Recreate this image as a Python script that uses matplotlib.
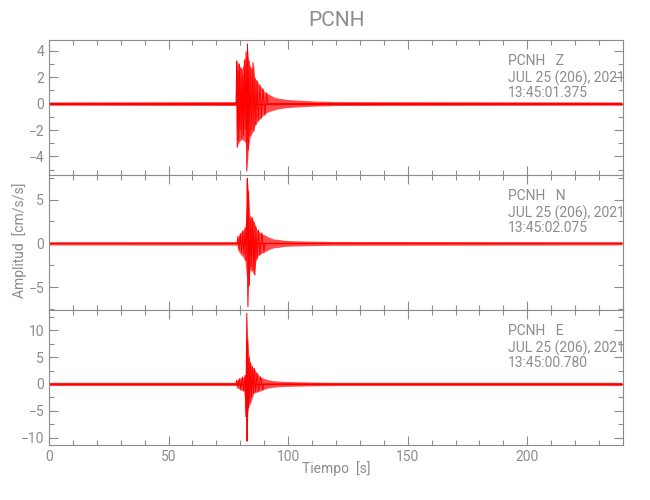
import matplotlib
matplotlib.use('Agg')
import matplotlib.pyplot as plt
from matplotlib.ticker import MultipleLocator

plt.rcParams['font.family'] = ['Roboto', 'DejaVu Sans']

station = 'PCNH'
components = ['Z', 'N', 'E']
dates = ['JUL 25 (206), 2021'] * 3
start_times = ['13:45:01.375', '13:45:02.075', '13:45:00.780']
t_end = 239.5

# envelope of each trace (time [s], upper, lower)
env_t = {
    'Z': [0, 78.2, 78.5, 79.5, 80.5, 81.5, 82.3, 82.8, 83.3, 84, 85, 85.5, 86, 87, 88, 89, 90, 92, 94, 96,
          98, 100, 105, 110, 120, 239.5],
    'N': [0, 78.6, 79.0, 80.0, 81.0, 82.0, 82.6, 82.9, 83.4, 84.0, 85.0, 85.7, 86.5, 87.1, 88.5, 89.9,
          92, 94, 96, 98.3, 102, 110, 120, 239.5],
    'E': [0, 78.2, 78.5, 80.0, 81.5, 82.3, 82.7, 83.1, 83.6, 84.2, 85.0, 85.7, 87.0, 88.5, 90, 91.3, 94,
          97, 100, 110, 120, 239.5],
}
env_up = {
    'Z': [0.12, 0.15, 3.2, 2.9, 2.6, 3.0, 3.7, 4.5, 3.6, 2.9, 2.6, 3.1, 2.0, 1.7, 1.4, 1.2, 0.9, 0.7, 0.5,
          0.4, 0.35, 0.3, 0.25, 0.2, 0.15, 0.12],
    'N': [0.18, 0.2, 0.8, 1.2, 1.5, 1.8, 4.5, 7.4, 5.9, 3.2, 2.9, 2.5, 1.9, 1.5, 1.2, 1.0, 0.7, 0.5, 0.45,
          0.35, 0.3, 0.25, 0.22, 0.18],
    'E': [0.3, 0.3, 0.7, 1.1, 1.4, 2.0, 13.2, 8.2, 5.0, 3.9, 3.2, 2.9, 2.0, 1.3, 1.0, 0.8, 0.6, 0.5, 0.45,
          0.35, 0.3, 0.3],
}
env_lo = {
    'Z': [-0.12, -0.15, -3.3, -2.9, -2.7, -2.8, -3.0, -5.1, -3.5, -2.6, -2.2, -2.0, -1.7, -1.4, -1.2, -1.0,
          -0.8, -0.6, -0.5, -0.4, -0.35, -0.3, -0.25, -0.2, -0.15, -0.12],
    'N': [-0.18, -0.2, -0.8, -1.2, -1.5, -2.0, -4.0, -7.25, -4.8, -3.0, -3.2, -3.6, -2.0, -1.5, -1.2, -1.0,
          -0.7, -0.5, -0.45, -0.35, -0.3, -0.25, -0.22, -0.18],
    'E': [-0.3, -0.3, -0.7, -1.1, -1.4, -6.1, -10.7, -5.5, -4.0, -3.6, -2.5, -1.7, -1.5, -1.3, -1.0, -0.8,
          -0.6, -0.5, -0.45, -0.35, -0.3, -0.3],
}

# main swings (peaks)
peak_t = {
    'Z': [0, 78.2, 78.5, 78.7, 79.0, 79.3, 79.6, 79.9, 80.3, 80.6, 81.0, 81.3, 81.7, 82.0, 82.4, 82.7,
          83.0, 83.3, 83.6, 84.0, 84.4, 84.8, 85.3, 85.7, 86.1, 86.5, 87.0, 87.5, 88.2, 88.8, 89.5, 90.3,
          91.0, 91.4, 239.5],
    'N': [0, 78.6, 79.0, 79.5, 80.0, 80.5, 81.0, 81.5, 82.0, 82.4, 82.8, 82.9, 83.2, 83.4, 83.8, 84.2,
          84.6, 85.0, 85.4, 85.7, 86.1, 86.5, 87.0, 87.6, 88.2, 89.0, 89.9, 90.3, 239.5],
    'E': [0, 78.2, 78.5, 79.0, 79.6, 80.2, 80.8, 81.4, 82.0, 82.3, 82.7, 82.8, 83.1, 83.4, 83.7, 84.0,
          84.3, 84.7, 85.1, 85.5, 85.9, 86.4, 87.0, 87.6, 88.5, 89.4, 89.8, 239.5],
}
peak_a = {
    'Z': [0, 0, 3.2, -3.3, 2.5, -2.8, 3.0, -2.0, 2.7, -2.6, 2.2, -2.4, 3.3, -2.0, 3.9, -5.1, 4.5, -3.5,
          3.2, -2.4, 2.6, -2.0, 3.1, -2.1, 1.9, -1.6, 1.7, -1.3, 1.4, -1.1, 1.1, -0.9, 0.8, 0, 0],
    'N': [0, 0, 0.8, -0.7, 1.1, -1.0, 1.4, -1.3, 1.8, -2.0, 4.5, 7.4, -7.25, 5.9, -4.8, 2.8, -2.6, 2.9,
          -3.0, 2.4, -3.6, 1.9, -1.8, 1.5, -1.3, 1.2, -1.0, 0, 0],
    'E': [0, 0, 0.7, -0.6, 1.0, -1.1, 1.3, -1.2, 1.6, -6.1, 13.2, -10.7, 8.2, -4.5, 5.0, -3.6, 3.9,
          -2.5, 3.2, -1.7, 2.9, -1.5, 2.0, -1.3, 1.3, -1.1, 0, 0],
}

ylims = {'Z': (-5.4, 4.8), 'N': (-7.6, 7.8), 'E': (-11.4, 13.8)}
yticks = {'Z': [-4, -2, 0, 2, 4], 'N': [-5, 0, 5], 'E': [-10, -5, 0, 5, 10]}
yminor = {'Z': 1, 'N': 2.5, 'E': 2.5}
xticks = [0, 50, 100, 150, 200]

gray = '#8c8c8c'
tick_font = 10

fig = plt.figure(figsize=(6.5, 5), dpi=100)
bottoms = [0.65, 0.38, 0.11]
for i, comp in enumerate(components):
    ax = fig.add_axes([0.0754, bottoms[i], 0.883, 0.27])
    ax.fill_between(env_t[comp], env_lo[comp], env_up[comp], color='#ff0000', alpha=0.7, lw=0)
    ax.plot(peak_t[comp], peak_a[comp], color='#ff0000', lw=0.7)
    ax.plot([0, t_end], [0, 0], color='#ff0000', lw=1.0)

    ax.set_xlim(0, 240)
    ax.set_ylim(*ylims[comp])
    ax.set_xticks(xticks)
    ax.xaxis.set_minor_locator(MultipleLocator(10))
    ax.set_yticks(yticks[comp])
    ax.yaxis.set_minor_locator(MultipleLocator(yminor[comp]))
    ax.tick_params(which='both', direction='in', top=True, right=True, colors=gray,
                   labelsize=tick_font, labelcolor=gray)
    ax.tick_params(which='major', length=6.5, width=0.8)
    ax.tick_params(which='minor', length=3.5, width=0.8)
    if i < 2:
        ax.set_xticklabels([])
    for sp in ax.spines.values():
        sp.set_color(gray)
        sp.set_linewidth(0.8)

    ax.text(0.80, 0.895, station + '   ' + comp, transform=ax.transAxes, color=gray,
            fontsize=tick_font, va='top', ha='left')
    ax.text(0.80, 0.776, dates[i], transform=ax.transAxes, color=gray,
            fontsize=tick_font, va='top', ha='left')
    ax.text(0.80, 0.660, start_times[i], transform=ax.transAxes, color=gray,
            fontsize=tick_font, va='top', ha='left')

fig.text(0.517, 0.96, station, color=gray, fontsize=15, ha='center', va='center')
fig.text(0.030, 0.52, 'Amplitud  [cm/s/s]', color=gray, fontsize=tick_font, rotation=90,
         ha='center', va='center')
fig.text(0.517, 0.062, 'Tiempo  [s]', color=gray, fontsize=tick_font, ha='center', va='center')

fig.savefig('out.png', dpi=100)
